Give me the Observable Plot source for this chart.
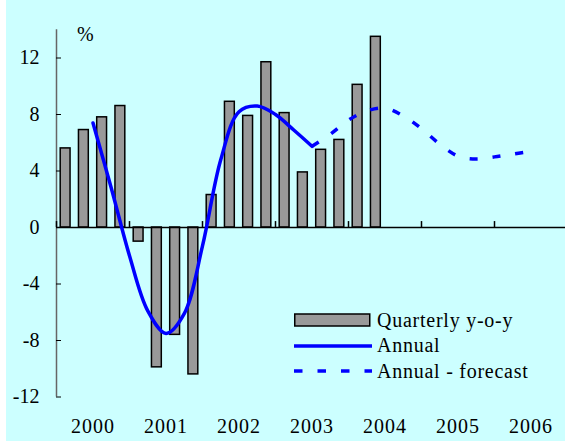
<!DOCTYPE html>
<html>
<head>
<meta charset="utf-8">
<script src="https://cdn.jsdelivr.net/npm/d3@7"></script>
<script src="https://cdn.jsdelivr.net/npm/@observablehq/plot@0.6"></script>
<style>
  html, body { margin: 0; padding: 0; background: #ffffff; }
  #wrap {
    position: relative; margin-left: 6px; width: 559px; height: 441px;
    background: #ccffff; overflow: hidden;
    font-family: "Liberation Serif", "Times New Roman", serif; color: #000;
  }
  #chart svg { display: block; }
  #chart svg [aria-label="x-axis tick label"] text { letter-spacing: 1px; }
  .unit { position: absolute; left: 71px; top: 22px; font-size: 20px; line-height: 24px; }
  .legend { position: absolute; left: 288px; top: 307.5px; }
  .legend .row { display: flex; align-items: center; height: 25.5px; }
  .legend .row svg { display: block; width: 78px; height: 14px; }
  .legend .row span { margin-left: 5px; font-size: 20px; line-height: 25.5px; letter-spacing: 0.75px; white-space: nowrap; }
</style>
</head>
<body>
<div id="wrap">
  <div id="chart"></div>
  <div class="unit">%</div>
  <div class="legend" id="legend"></div>
</div>
<script>
// ---- data ----
const years = [2000, 2001, 2002, 2003, 2004, 2005, 2006];
const yearLabels = ["2000", "2001", "2002", "2003", "2004", "2005", "2006"];
const yTicks = [-12, -8, -4, 0, 4, 8, 12];
// quarterly y-o-y growth, 2000 Q1 .. 2004 Q2
const quarterly = [5.6, 6.9, 7.8, 8.6, -1.0, -9.9, -7.6, -10.4, 2.3, 8.9, 7.9, 11.7, 8.1, 3.9, 5.5, 6.2, 10.1, 13.5];
// annual growth (solid)
const annualPeriods = [2000.5, 2000.75, 2001, 2001.25, 2001.5, 2001.75, 2002, 2002.25, 2002.5, 2002.75, 2003, 2003.25, 2003.5];
const annualValues = [7.4, 2.8, -2.0, -5.9, -7.5, -6.1, -1.3, 4.8, 8.2, 8.6, 8.0, 6.9, 5.75];
// annual growth forecast (dashed)
const forecastPeriods = [2003.5, 2003.75, 2004, 2004.25, 2004.5, 2004.75, 2005, 2005.25, 2005.5, 2005.75, 2006, 2006.25, 2006.5];
const forecastValues = [5.75, 6.6, 7.6, 8.25, 8.45, 7.9, 7.0, 5.9, 5.05, 4.85, 5.0, 5.2, 5.4];
const legendLabels = ["Quarterly y-o-y", "Annual", "Annual - forecast"];

// ---- tables ----
const bars = quarterly.map((v, i) => ({
  start: years[0] + Math.floor(i / 4) + (i % 4) / 4,
  end: years[0] + Math.floor(i / 4) + (i % 4 + 1) / 4,
  value: v
}));
const annual = annualPeriods.map((t, i) => ({t, v: annualValues[i]}));
const forecast = forecastPeriods.map((t, i) => ({t, v: forecastValues[i]}));
const yearEdges = years.concat([years[years.length - 1] + 1]);
const yearCenters = years.map(y => y + 0.5);

const BLUE = "#0000ff";
const GRAY = "#999999";

const chart = Plot.plot({
  width: 559,
  height: 441,
  marginLeft: 50,
  marginRight: 0,
  marginTop: 29,
  marginBottom: 45,
  style: {background: "transparent", fontFamily: "'Liberation Serif', 'Times New Roman', serif", fontSize: "20px", color: "#000"},
  x: {type: "linear", domain: [2000, 2007], range: [50, 561]},
  y: {domain: [-12, 14], range: [396.5, 29.25]},
  marks: [
    // y axis line
    Plot.ruleX([years[0]], {y1: -12, y2: 14, stroke: "#666666", strokeWidth: 1.5}),
    // y tick marks (pointing right)
    Plot.axisY({ticks: yTicks, tickSize: 5, dx: 5, fill: "none", stroke: "#000", strokeWidth: 1, label: null}),
    // y tick labels
    Plot.axisY({ticks: yTicks, tickSize: 0, tickPadding: 17, stroke: "none", label: null, tickFormat: d => String(d)}),
    // x year labels
    Plot.axisX({ticks: yearCenters, tickSize: 0, tickPadding: 22, tickFormat: (d, i) => yearLabels[i], label: null}),
    // bars
    Plot.rect(bars, {x1: "start", x2: "end", y1: 0, y2: "value", insetLeft: 4.2, insetRight: 4.2, fill: GRAY, stroke: "#000", strokeWidth: 1.5}),
    // zero line
    Plot.ruleY([0], {x1: 2000, x2: 2007, stroke: "#000", strokeWidth: 1.5}),
    // year boundary ticks on the zero line
    Plot.ruleX(yearEdges, {y1: 0, y2: 0.42, stroke: "#000", strokeWidth: 1.5}),
    // annual line
    Plot.line(annual, {x: "t", y: "v", stroke: BLUE, strokeWidth: 3.5, curve: "catmull-rom"}),
    // forecast
    Plot.line(forecast, {x: "t", y: "v", stroke: BLUE, strokeWidth: 3.5, curve: "catmull-rom", strokeDasharray: "8,15", strokeLinecap: "butt"})
  ]
});
document.getElementById("chart").appendChild(chart);

// ---- legend ----
const legend = document.getElementById("legend");
const swatches = [
  `<svg viewBox="0 0 78 14"><rect x="0.75" y="1" width="75" height="12" fill="${GRAY}" stroke="#000" stroke-width="1.5"/></svg>`,
  `<svg viewBox="0 0 78 14"><line x1="0" y1="7" x2="78" y2="7" stroke="${BLUE}" stroke-width="3.5"/></svg>`,
  `<svg viewBox="0 0 78 14"><line x1="0" y1="7" x2="78" y2="7" stroke="${BLUE}" stroke-width="3.5" stroke-dasharray="8.5,15"/></svg>`
];
legendLabels.forEach((lab, i) => {
  const row = document.createElement("div");
  row.className = "row";
  row.innerHTML = swatches[i];
  const s = document.createElement("span");
  s.textContent = lab;
  row.appendChild(s);
  legend.appendChild(row);
});
</script>
</body>
</html>
